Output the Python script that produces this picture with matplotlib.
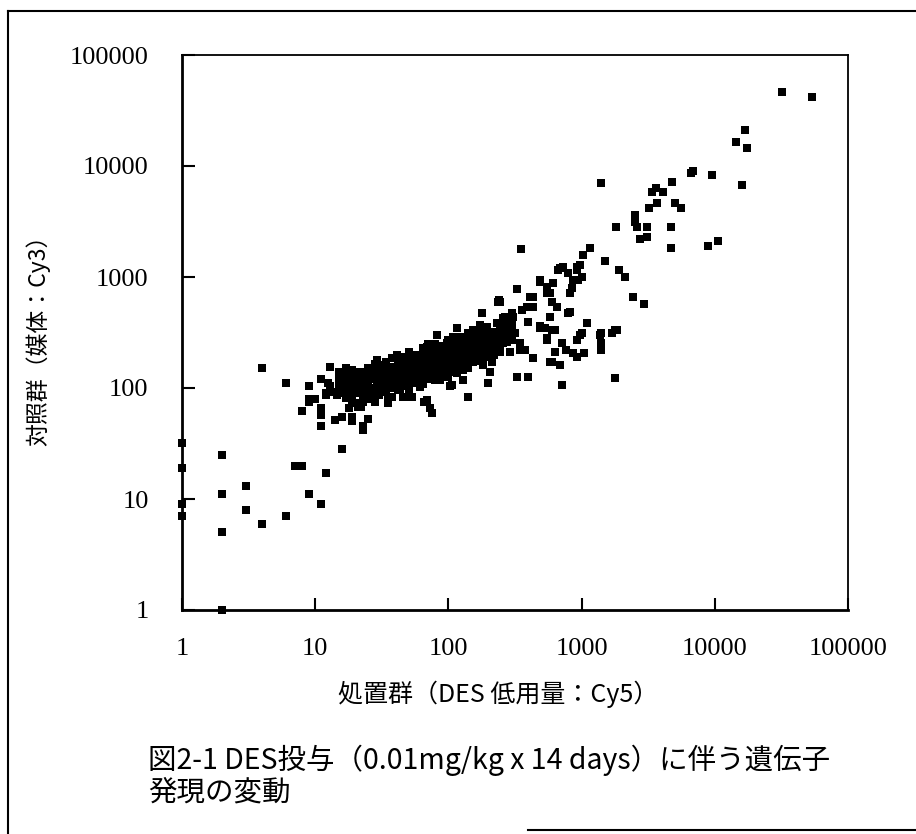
import matplotlib

matplotlib.use("Agg")
import matplotlib.pyplot as plt
from matplotlib.lines import Line2D

# treated (Cy5, x) vs control (Cy3, y) intensities
low_x = [1, 1, 1, 1, 2, 2, 2, 2, 3, 3, 4, 4, 6, 6, 7, 8, 9, 11, 12, 16, 11, 23]
low_y = [32, 19, 9, 7, 25, 11, 5, 1, 13, 8, 6, 150, 7, 110, 20, 20, 11, 9, 17, 28, 45, 45]

edge_x = [8, 9, 10, 9, 11, 11, 11, 13, 12, 14, 16, 19, 25, 23, 13, 15, 17, 19, 18, 21,
          22, 29, 30, 27, 35, 41, 35, 51, 51, 43, 69, 75, 70, 82, 103, 140, 200, 205, 178, 236,
          9, 11, 19, 12.5, 12, 13.5, 14.5, 66, 73, 116, 108, 69, 106, 153, 172, 230, 240]
edge_y = [62, 75, 80, 105, 120, 63, 57, 155, 87, 52, 55, 55, 53, 42, 105, 95, 140, 130, 90, 68,
          100, 178, 139, 90, 113, 200, 83, 83, 125, 145, 78, 60, 250, 300, 104, 83, 111, 140, 475, 600,
          80, 66, 50, 111, 90, 92, 87, 75, 66, 345, 255, 233, 106, 333, 370, 385, 620]

core_x = [15, 15, 15,
          17, 17, 17, 17, 17,
          19, 19, 19, 19, 19,
          21, 21, 21, 21,
          23, 23, 23, 23, 23,
          25, 25, 25, 25, 25,
          28, 28, 28, 28, 28,
          31, 31, 31, 31,
          34, 34, 34, 34, 34,
          38, 38, 38, 38, 38,
          42, 42, 42, 42, 42,
          46, 46, 46, 46, 46,
          51, 51, 51, 51, 51, 51,
          57, 57, 57, 57, 57,
          64, 64, 64, 64, 64, 64,
          72, 72, 72, 72, 72,
          80, 80, 80, 80, 80, 80,
          90, 90, 90, 90, 90,
          100, 100, 100, 100, 100, 100,
          112, 112, 112, 112, 112,
          125, 125, 125, 125, 125,
          140, 140, 140, 140, 140, 140,
          155, 155, 155, 155,
          175, 175, 175, 175, 175,
          195, 195, 195, 195, 195,
          220, 220, 220, 220,
          245, 245, 245, 245,
          275, 275, 275, 275,
          300, 300, 300]
core_y = [140, 120, 105,
          150, 130, 112, 98, 85,
          145, 125, 108, 92, 78,
          135, 118, 100, 72,
          140, 122, 105, 88, 75,
          150, 130, 112, 95, 80,
          165, 140, 120, 100, 85,
          160, 135, 115, 98,
          170, 145, 125, 108, 92,
          185, 155, 135, 118, 100,
          175, 150, 130, 112, 95,
          190, 165, 140, 122, 105,
          210, 180, 155, 135, 115, 98,
          200, 170, 148, 128, 110,
          230, 195, 168, 145, 125, 108,
          220, 190, 162, 140, 120,
          250, 210, 180, 155, 135, 118,
          240, 205, 175, 150, 130,
          270, 230, 195, 170, 145, 125,
          260, 220, 190, 165, 140,
          290, 245, 210, 180, 155,
          310, 265, 225, 195, 170, 150,
          290, 245, 210, 180,
          330, 280, 240, 205, 175,
          350, 300, 255, 220, 190,
          320, 275, 235, 200,
          380, 330, 280, 240,
          410, 350, 300, 260,
          370, 320, 280]

fill_x = [20, 19, 17, 16, 18, 20, 15, 17, 20, 18, 22, 24, 23, 26, 27, 30, 29, 32, 29, 30,
          28, 35, 32, 36, 41, 43, 38, 43, 38, 46, 49, 51, 54, 51, 53, 61, 63, 63, 61, 73,
          77, 86, 91, 86, 97, 102, 121, 126, 116, 128, 195, 205, 245, 275, 316, 345, 300, 255, 215, 183,
          153, 133, 108, 97, 116, 137, 166, 205, 245, 290, 345, 375, 102, 121, 153, 183, 211, 99, 128]
fill_y = [139, 123, 118, 102, 102, 90, 90, 81, 73, 66, 68, 83, 118, 96, 150, 160, 125, 125, 102, 86,
          75, 73, 92, 145, 155, 125, 111, 96, 83, 83, 145, 170, 118, 96, 83, 179, 145, 118, 102, 131,
          168, 207, 145, 118, 179, 210, 210, 168, 137, 118, 355, 290, 310, 333, 310, 255, 270, 255, 233, 255,
          270, 280, 290, 255, 220, 210, 198, 190, 210, 210, 220, 220, 186, 168, 172, 160, 172, 145, 145]

high_x = [350, 1400, 330, 245, 265, 300, 360, 410, 430, 395, 490, 550, 580, 600, 650, 580, 660, 720, 790, 860,
          920, 970, 1000, 820, 1030, 1150, 790, 600, 550, 490, 630, 600, 690, 710, 770, 860, 930, 1050, 930, 1000,
          1090, 1400, 1400, 1400, 1700, 1850, 1770, 710, 395, 330, 430, 550, 4800, 6900, 6600, 9500, 16000, 17000,
          14500, 17500, 32000, 54000, 3400, 3600, 4100, 3700, 3200, 5000, 5600, 2500, 2500, 2600, 3100, 2750, 3100,
          1800, 4700, 4700, 8900, 10500, 1500, 1900, 2100, 2450, 2950, 925, 690, 940, 850, 490, 610, 550, 430, 390,
          305, 255, 820, 530, 490, 630, 970, 1370, 1780, 580]
high_y = [1800, 7000, 780, 600, 440, 475, 505, 660, 540, 395, 900, 820, 720, 600, 540, 440, 1150, 1230, 1080, 940,
          1150, 1280, 1000, 720, 1580, 1830, 475, 335, 270, 350, 210, 170, 160, 255, 220, 205, 190, 205, 270, 310,
          385, 310, 255, 220, 310, 330, 123, 106, 125, 125, 185, 280, 7200, 9000, 8700, 8300, 6800, 21000,
          16500, 14500, 46000, 42000, 5800, 6300, 5800, 4600, 4200, 4600, 4200, 3600, 3100, 2800, 2800, 2200, 2300,
          2800, 2800, 1830, 1900, 2100, 1400, 1150, 1000, 660, 570, 1230, 1200, 940, 800, 940, 880, 720, 660, 540,
          440, 430, 485, 350, 360, 335, 300, 300, 333, 170]

ticks = [1, 10, 100, 1000, 10000, 100000]
tick_labels = ["1", "10", "100", "1000", "10000", "100000"]

x_label = "処置群（DES 低用量：Cy5）"
y_label = "対照群（媒体：Cy3）"
caption = ["図2-1 DES投与（0.01mg/kg x 14 days）に伴う遺伝子", "発現の変動"]

W, H = 916, 834
jp = ["Noto Sans CJK JP", "DejaVu Sans"]
num_font = "Liberation Serif"

fig = plt.figure(figsize=(W / 100, H / 100), dpi=100)
ax = fig.add_axes([182 / W, 1 - 610 / H, (848 - 182) / W, (610 - 55) / H])

for xs, ys in [(low_x, low_y), (edge_x, edge_y), (core_x, core_y), (fill_x, fill_y), (high_x, high_y)]:
    ax.scatter(xs, ys, marker="s", s=29, color="black", linewidths=0, clip_on=False, zorder=3)

ax.set_xscale("log")
ax.set_yscale("log")
ax.set_xlim(1, 100000)
ax.set_ylim(1, 100000)
ax.minorticks_off()
ax.set_xticks(ticks)
ax.set_yticks(ticks)
ax.set_xticklabels(tick_labels, fontfamily=num_font, fontsize=19)
ax.set_yticklabels(tick_labels, fontfamily=num_font, fontsize=19)
ax.tick_params(axis="y", direction="in", length=9, width=1.5, pad=24)
ax.tick_params(axis="x", direction="in", length=9, width=1.5, pad=20)

for side in ["left", "bottom"]:
    ax.spines[side].set_linewidth(2.0)
for side in ["top", "right"]:
    ax.spines[side].set_linewidth(1.3)

fig.text(498 / W, 1 - 694 / H, x_label, family=jp, fontsize=18, ha="center", va="center")
fig.text(38 / W, 1 - 335 / H, y_label, family=jp, fontsize=16.5, rotation=90, ha="center", va="center")
fig.text(148 / W, 1 - 760 / H, caption[0], family=jp, fontsize=20.5, ha="left", va="center")
fig.text(148 / W, 1 - 793 / H, caption[1], family=jp, fontsize=20.5, ha="left", va="center")

# outer frame remnants of the scanned page
fig.add_artist(Line2D([8 / W, 8 / W], [1 - 11 / H, 0], transform=fig.transFigure, color="black", lw=1.5))
fig.add_artist(Line2D([8 / W, 1], [1 - 11 / H, 1 - 11 / H], transform=fig.transFigure, color="black", lw=1.5))
fig.add_artist(Line2D([528 / W, 1], [1 - 830 / H, 1 - 830 / H], transform=fig.transFigure, color="black", lw=1.5))

fig.savefig("out.png", dpi=100)
plt.close(fig)
